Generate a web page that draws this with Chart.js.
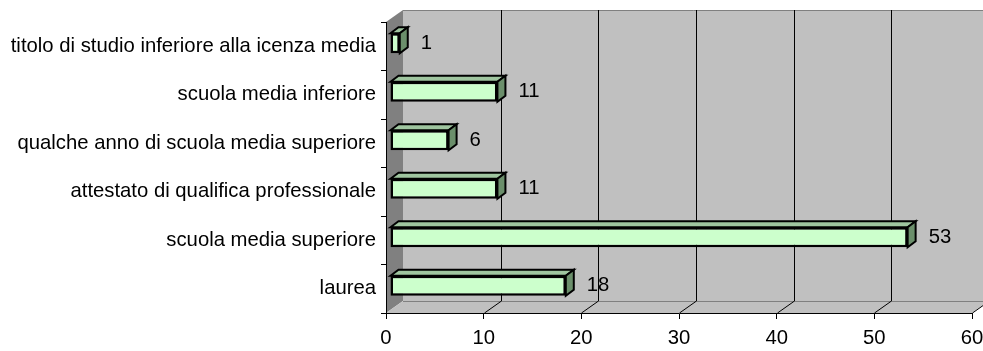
<!DOCTYPE html>
<html lang="it">
<head>
<meta charset="UTF-8">
<title>Titolo di studio</title>
<script src="https://cdn.jsdelivr.net/npm/chart.js"></script>
<style>
    body { margin: 0; background: #fff; }
    #wrap { width: 983px; height: 351px; }
</style>
</head>
<body>
<div id="wrap"><canvas id="studyChart" width="983" height="351"></canvas></div>
<script>
// categories, top to bottom
const categories = [
    'titolo di studio inferiore alla icenza media',
    'scuola media inferiore',
    'qualche anno di scuola media superiore',
    'attestato di qualifica professionale',
    'scuola media superiore',
    'laurea'
];
const values = [1, 11, 6, 11, 53, 18];
const xMin = 0;
const xMax = 60;
const xStep = 10;

const FONT = 'Liberation Sans, Arial, sans-serif';
const FONT_SIZE = 20.3;
// fake 3D depth of the plot box and of the bars
const WALL = { dx: 17, dy: -12 };
const BAR_FRONT = { dx: 4, dy: -3 };
const BAR_DEPTH = { dx: 8, dy: -6 };

function poly(ctx, pts, fill, stroke, lw) {
    ctx.beginPath();
    ctx.moveTo(pts[0][0], pts[0][1]);
    for (let i = 1; i < pts.length; i++) ctx.lineTo(pts[i][0], pts[i][1]);
    ctx.closePath();
    if (fill) { ctx.fillStyle = fill; ctx.fill(); }
    if (stroke) { ctx.strokeStyle = stroke; ctx.lineWidth = lw || 1; ctx.stroke(); }
}

// back wall, left wall, floor and grid lines
const wallsPlugin = {
    id: 'walls',
    beforeDraw(chart) {
        const ctx = chart.ctx;
        const { left, right, top, bottom } = chart.chartArea;
        const xs = chart.scales.x;
        ctx.save();
        poly(ctx, [[left + WALL.dx, top + WALL.dy], [right + WALL.dx + 20, top + WALL.dy],
                   [right + WALL.dx + 20, bottom + WALL.dy], [left + WALL.dx, bottom + WALL.dy]], '#c0c0c0');
        poly(ctx, [[left, top], [left + WALL.dx, top + WALL.dy],
                   [left + WALL.dx, bottom + WALL.dy], [left, bottom]], '#808080');
        poly(ctx, [[left, bottom], [left + WALL.dx, bottom + WALL.dy],
                   [right + WALL.dx, bottom + WALL.dy], [right, bottom]], '#c0c0c0');

        ctx.lineWidth = 1;
        ctx.strokeStyle = '#808080';
        ctx.beginPath();
        ctx.moveTo(left + WALL.dx, top + WALL.dy + 0.5);
        ctx.lineTo(right + WALL.dx + 20, top + WALL.dy + 0.5);
        ctx.moveTo(left + WALL.dx, bottom + WALL.dy + 0.5);
        ctx.lineTo(right + WALL.dx + 20, bottom + WALL.dy + 0.5);
        ctx.stroke();

        ctx.strokeStyle = '#000';
        ctx.beginPath();
        for (let v = xMin + xStep; v <= xMax; v += xStep) {
            const px = Math.round(xs.getPixelForValue(v)) + 0.5;
            if (v < xMax) {
                ctx.moveTo(px + WALL.dx, top + WALL.dy);
                ctx.lineTo(px + WALL.dx, bottom + WALL.dy);
            }
            ctx.moveTo(px, bottom);
            ctx.lineTo(px + WALL.dx, bottom + WALL.dy);
        }
        ctx.stroke();
        ctx.restore();
    }
};

// top and side faces of the bars, bars pushed into the box
const barsPlugin = {
    id: 'bars3d',
    beforeDatasetsDraw(chart) {
        const ctx = chart.ctx;
        ctx.save();
        ctx.translate(BAR_FRONT.dx, BAR_FRONT.dy);
        chart.getDatasetMeta(0).data.forEach(el => {
            const h = el.height;
            const t = el.y - h / 2, b = el.y + h / 2;
            const x0 = el.base, x1 = el.x;
            poly(ctx, [[x0, t], [x0 + BAR_DEPTH.dx, t + BAR_DEPTH.dy],
                       [x1 + BAR_DEPTH.dx, t + BAR_DEPTH.dy], [x1, t]], '#9fc59f', '#000', 2);
            poly(ctx, [[x1, t], [x1 + BAR_DEPTH.dx, t + BAR_DEPTH.dy],
                       [x1 + BAR_DEPTH.dx, b + BAR_DEPTH.dy], [x1, b]], '#6b8f6b', '#000', 2);
        });
    },
    afterDatasetsDraw(chart) {
        const ctx = chart.ctx;
        ctx.restore();
        ctx.save();
        ctx.fillStyle = '#000';
        ctx.font = FONT_SIZE + 'px ' + FONT;
        ctx.textAlign = 'left';
        ctx.textBaseline = 'middle';
        const xs = chart.scales.x;
        chart.getDatasetMeta(0).data.forEach((el, i) => {
            ctx.fillText(String(values[i]), xs.getPixelForValue(values[i]) + 25, el.y + BAR_FRONT.dy);
        });
        ctx.restore();
    }
};

new Chart(document.getElementById('studyChart'), {
    type: 'bar',
    data: {
        labels: categories,
        datasets: [{
            data: values,
            backgroundColor: '#ccffcc',
            borderColor: '#000',
            borderWidth: 2.5,
            borderSkipped: false,
            categoryPercentage: 1,
            barPercentage: 0.41
        }]
    },
    options: {
        indexAxis: 'y',
        responsive: false,
        animation: false,
        devicePixelRatio: 1,
        layout: { padding: { top: 22, right: 11, left: 0, bottom: 0 } },
        plugins: { legend: { display: false }, tooltip: { enabled: false } },
        scales: {
            x: {
                min: xMin,
                max: xMax,
                ticks: { stepSize: xStep, color: '#000', padding: 7, font: { family: FONT, size: FONT_SIZE } },
                grid: { drawOnChartArea: false, drawTicks: true, tickLength: 6, color: '#000' },
                border: { color: '#000', width: 1 },
                afterFit(s) { s.height = 38; s.paddingLeft = 0; s.paddingRight = 0; }
            },
            y: {
                ticks: { color: '#000', padding: 5, font: { family: FONT, size: FONT_SIZE } },
                grid: { drawOnChartArea: false, drawTicks: true, tickLength: 5, color: '#000', offset: true },
                border: { color: '#000', width: 1 },
                afterFit(s) { s.width = 386; s.paddingTop = 0; s.paddingBottom = 0; }
            }
        }
    },
    plugins: [wallsPlugin, barsPlugin]
});
</script>
</body>
</html>
